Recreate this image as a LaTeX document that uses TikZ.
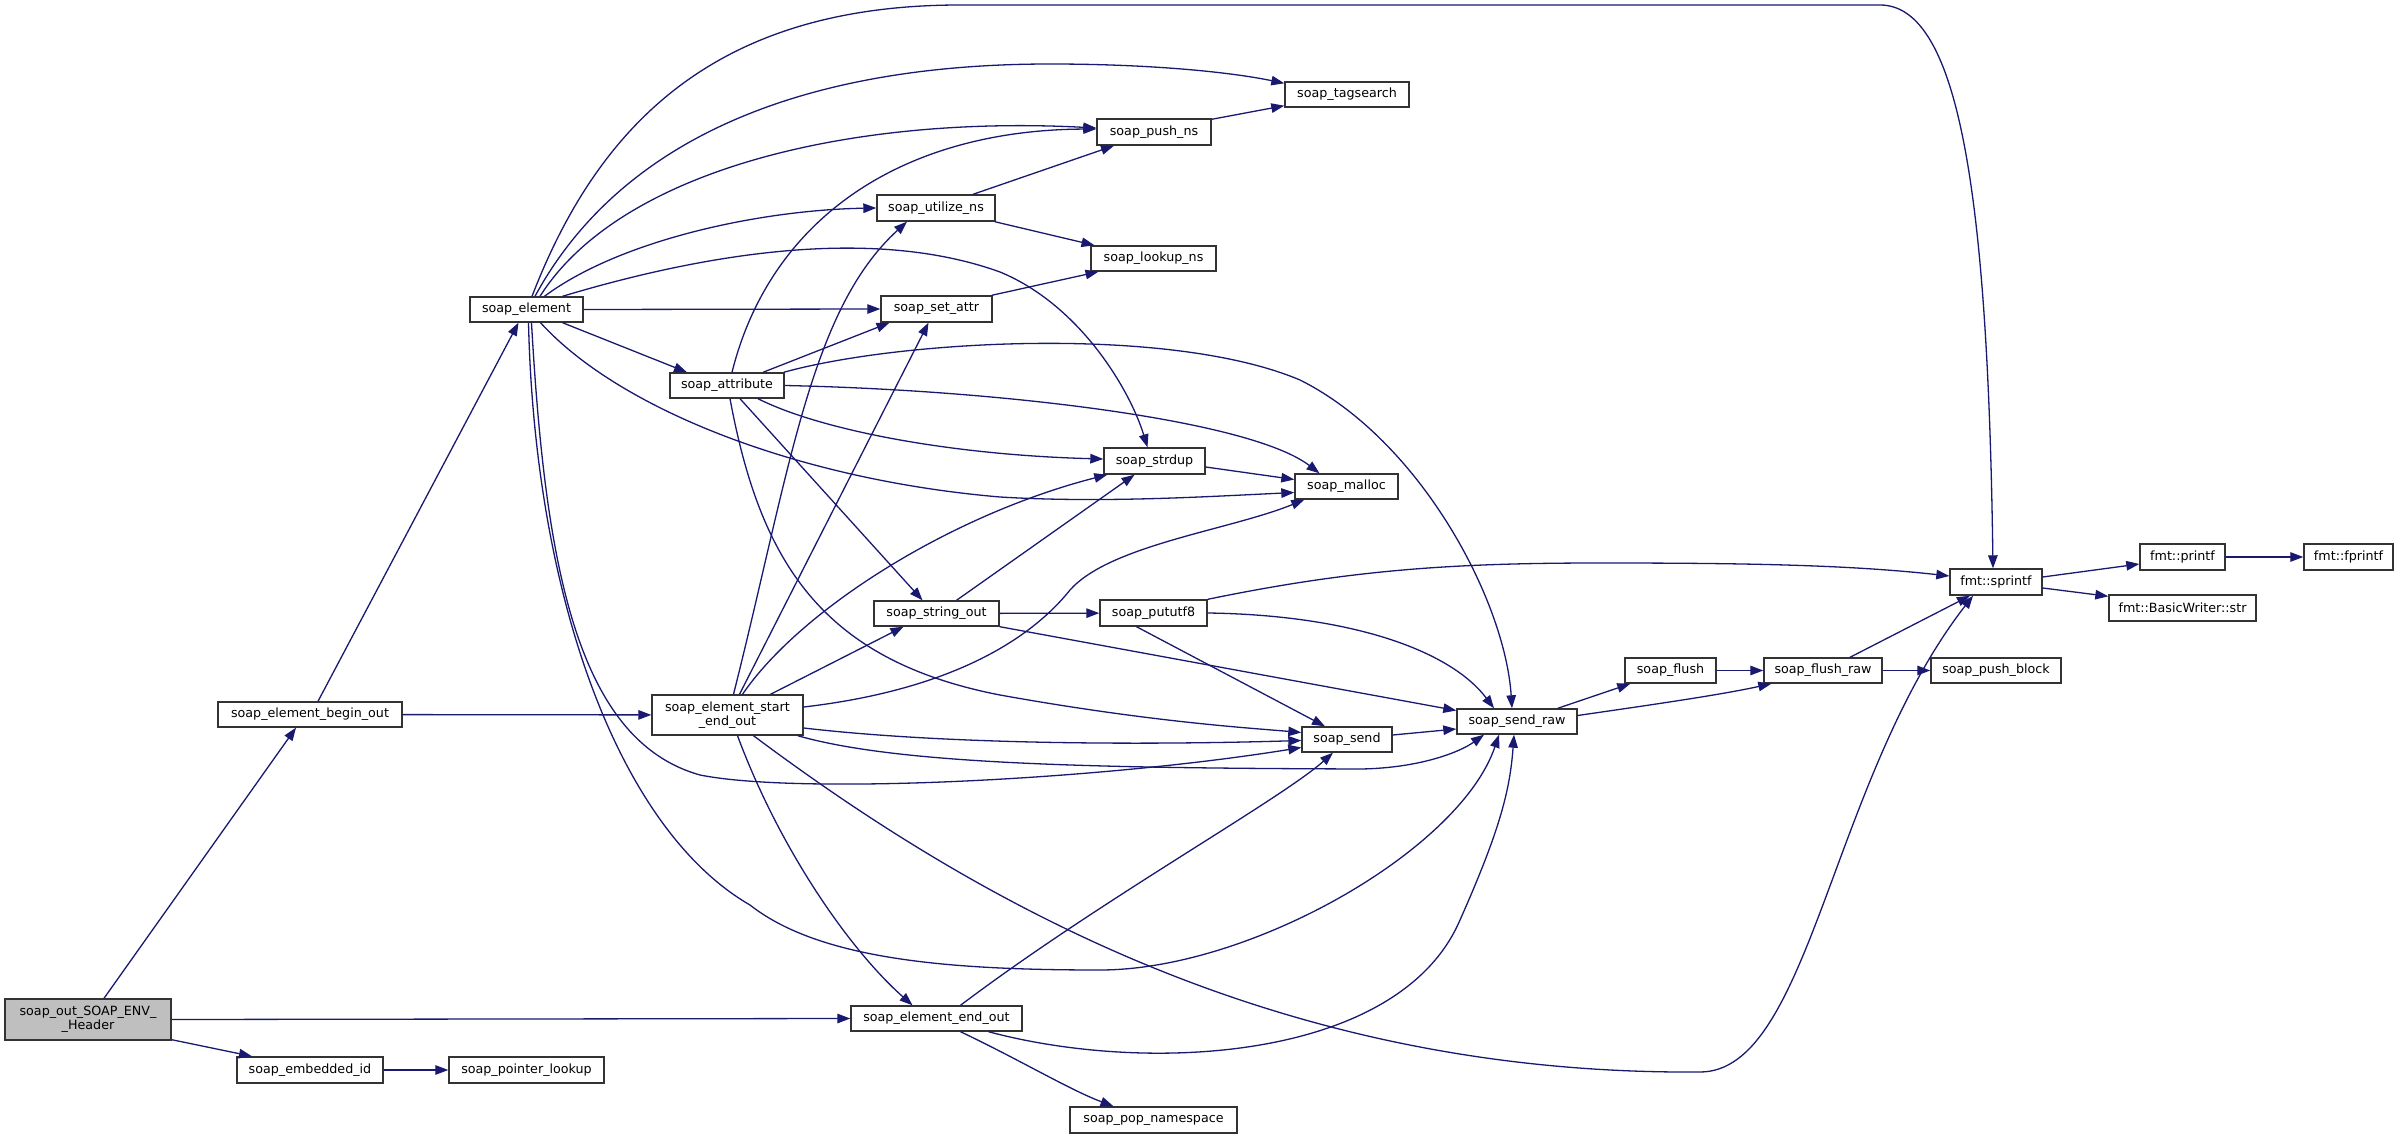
\documentclass[tikz,border=0pt]{standalone}
\usepackage{fontspec}
\newfontfamily\dvs{DejaVu Sans}
\usetikzlibrary{arrows.meta}
\definecolor{edgec}{HTML}{191970}
\definecolor{boxc}{HTML}{333333}
\definecolor{grayfill}{HTML}{BFBFBF}
\begin{document}
\begin{tikzpicture}[x=1pt,y=-1pt,
 box/.style={draw=boxc, line width=1.4pt, fill=white, rectangle, inner sep=0pt, minimum height=25pt, font=\dvs\fontsize{12.7pt}{14pt}\selectfont, align=center},
 edge/.style={draw=edgec, line width=1.3pt, -{Triangle[length=13pt,width=9.5pt]}}]
\fill[white] (0,0) rectangle (2399,1139);
\useasboundingbox (0,0) rectangle (2399,1139);

\node[box, fill=grayfill, minimum width=166pt, minimum height=41pt] (A) at (88,1019.5) {soap\_out\_SOAP\_ENV\_\\\_Header};
\node[box, minimum width=184pt] (B) at (310,714.5) {soap\_element\_begin\_out};
\node[box, minimum width=151pt, minimum height=40pt] (S) at (727.5,715) {soap\_element\_start\\\_end\_out};
\node[box, minimum width=113pt] (E) at (526.5,309.5) {soap\_element};
\node[box, minimum width=114pt] (T) at (727,385.5) {soap\_attribute};
\node[box, minimum width=146pt, minimum height=26pt] (EM) at (310,1070) {soap\_embedded\_id};
\node[box, minimum width=155pt, minimum height=26pt] (PL) at (526.5,1070) {soap\_pointer\_lookup};
\node[box, minimum width=118pt, minimum height=26pt] (U) at (936,208) {soap\_utilize\_ns};
\node[box, minimum width=111pt, minimum height=26pt] (SA) at (936.5,309) {soap\_set\_attr};
\node[box, minimum width=125pt] (SO) at (936.5,613.5) {soap\_string\_out};
\node[box, minimum width=171pt] (EO) at (936.5,1018.5) {soap\_element\_end\_out};
\node[box, minimum width=124pt] (TS) at (1347,94.5) {soap\_tagsearch};
\node[box, minimum width=114pt, minimum height=26pt] (PN) at (1154,132) {soap\_push\_ns};
\node[box, minimum width=125pt] (LN) at (1153.5,258.5) {soap\_lookup\_ns};
\node[box, minimum width=101pt, minimum height=26pt] (SD) at (1154.5,461) {soap\_strdup};
\node[box, minimum width=103pt] (ML) at (1346.5,486.5) {soap\_malloc};
\node[box, minimum width=107pt, minimum height=26pt] (PU) at (1153.5,613) {soap\_pututf8};
\node[box, minimum width=90pt] (SN) at (1347,739.5) {soap\_send};
\node[box, minimum width=120pt] (SR) at (1517,721.5) {soap\_send\_raw};
\node[box, minimum width=167pt, minimum height=26pt] (PP) at (1153.5,1120) {soap\_pop\_namespace};
\node[box, minimum width=92pt, minimum height=26pt] (SP) at (1996,582) {fmt::sprintf};
\node[box, minimum width=85pt, minimum height=26pt] (PF) at (2182.5,557) {fmt::printf};
\node[box, minimum width=89pt, minimum height=26pt] (FP) at (2348.5,557) {fmt::fprintf};
\node[box, minimum width=147pt, minimum height=26pt] (BW) at (2182.5,608) {fmt::BasicWriter::str};
\node[box, minimum width=91pt] (FL) at (1670.5,670.5) {soap\_flush};
\node[box, minimum width=118pt] (FR) at (1823,670.5) {soap\_flush\_raw};
\node[box, minimum width=130pt] (PB) at (1996,670.5) {soap\_push\_block};

% soap_out
\draw[edge] ([xshift=16pt]A.north) -- ([xshift=-14pt]B.south);
\draw[edge] (A.east) -- (EO.west);
\draw[edge] ([yshift=1pt]A.south east) -- ([xshift=-58pt]EM.north);
\draw[edge] (EM) -- (PL);
% begin_out
\draw[edge] ([xshift=8pt]B.north) -- ([xshift=-8pt]E.south);
\draw[edge] (B) -- (S);
% soap_element
\draw[edge] ([xshift=5.5pt]E.north) .. controls (600,120) and (720,5) .. (960,5) -- (1880,5) .. controls (1960,5) and (1988,200) .. ([xshift=-3pt]SP.north);
\draw[edge] ([xshift=8.5pt]E.north) .. controls (620,140) and (800,64) .. (1050,64) .. controls (1150,64) and (1230,72) .. ([yshift=-2pt]TS.north west);
\draw[edge] ([xshift=13.5pt]E.north) .. controls (620,170) and (850,115) .. ([yshift=4pt]PN.west);
\draw[edge] ([xshift=18pt]E.north) .. controls (620,240) and (760,210) .. (U.west);
\draw[edge] ([xshift=36pt]E.north) .. controls (700,255) and (870,225) .. (1000,272) .. controls (1080,305) and (1130,390) .. ([xshift=-7pt]SD.north);
\draw[edge] (E.east) -- (SA.west);
\draw[edge] ([xshift=36pt]E.south) -- ([xshift=-40pt]T.north);
\draw[edge] ([xshift=14pt]E.south) .. controls (620,410) and (800,480) .. (1000,497) .. controls (1100,503) and (1200,497) .. ([yshift=-6pt]ML.west);
\draw[edge] ([xshift=5pt]E.south) .. controls (545,560) and (575,740) .. (700,775) .. controls (800,795) and (1100,780) .. ([yshift=-8pt]SN.west);
\draw[edge] ([xshift=2pt]E.south) .. controls (535,600) and (620,830) .. (750,905) .. controls (820,960) and (950,970) .. (1100,970) .. controls (1250,970) and (1460,850) .. ([xshift=-18pt]SR.south);
% soap_attribute
\draw[edge] ([xshift=5pt]T.north) .. controls (770,220) and (900,130) .. ([yshift=3pt]PN.west);
\draw[edge] ([xshift=36pt]T.north) -- ([xshift=-47pt]SA.south);
\draw[edge] ([xshift=-1pt]T.north east) .. controls (900,340) and (1170,325) .. (1300,380) .. controls (1420,440) and (1505,600) .. ([xshift=-5pt]SR.north);
\draw[edge] (T.east) .. controls (1000,390) and (1250,420) .. ([xshift=-27pt]ML.north);
\draw[edge] ([xshift=31pt]T.south) .. controls (820,430) and (950,455) .. ([yshift=2pt]SD.west);
\draw[edge] ([xshift=13pt]T.south) -- ([xshift=-14pt]SO.north);
\draw[edge] ([xshift=3pt]T.south) .. controls (760,560) and (820,660) .. (1000,695) .. controls (1150,722) and (1250,728) .. ([yshift=7pt]SN.west);
% start_end_out
\draw[edge] ([xshift=6pt]S.north) .. controls (790,470) and (810,310) .. ([xshift=-29pt]U.south);
\draw[edge] ([xshift=12pt]S.north) -- ([xshift=-8pt]SA.south);
\draw[edge] ([xshift=15pt]S.north) .. controls (800,610) and (950,515) .. ([xshift=4pt]SD.south west);
\draw[edge] ([xshift=43pt]S.north) -- ([xshift=-33pt]SO.south);
\draw[edge] ([yshift=8pt]S.east) .. controls (950,690) and (1030,640) .. (1070,590) .. controls (1110,545) and (1230,530) .. ([xshift=10pt]ML.south west);
\draw[edge] ([yshift=-13pt]S.east) .. controls (950,745) and (1150,745) .. ([yshift=-1pt]SN.west);
\draw[edge] ([xshift=-6pt]S.south east) .. controls (900,765) and (1100,768) .. (1361,769) .. controls (1420,768) and (1460,752) .. ([xshift=-33pt]SR.south);
\draw[edge] ([xshift=10pt]S.south) .. controls (780,850) and (850,950) .. ([xshift=-24pt]EO.north);
\draw[edge] ([xshift=26pt]S.south) .. controls (1000,920) and (1300,1075) .. (1700,1072) .. controls (1810,1072) and (1830,780) .. ([xshift=-23pt]SP.south);
% others
\draw[edge] ([xshift=37pt]U.north) -- ([xshift=-40pt]PN.south);
\draw[edge] ([xshift=-1pt]U.south east) -- ([xshift=-59pt]LN.north);
\draw[edge] ([xshift=-1pt]SA.north east) -- ([xshift=-55pt]LN.south);
\draw[edge] ([yshift=-1pt]PN.north east) -- ([yshift=2pt]TS.south west);
\draw[edge] ([yshift=-6pt]SD.east) -- ([yshift=7pt]ML.west);
\draw[edge] (SO) -- (PU);
\draw[edge] (SO.south east) -- ([yshift=11pt]SR.west);
\draw[edge] ([xshift=20pt]SO.north) -- ([xshift=-20pt]SD.south);
\draw[edge] (PU.north east) .. controls (1350,570) and (1450,563) .. (1600,563) .. controls (1750,563) and (1850,565) .. ([yshift=6pt]SP.west);
\draw[edge] (PU.east) .. controls (1350,615) and (1450,650) .. ([xshift=-23pt]SR.north);
\draw[edge] ([xshift=-17pt]PU.south) -- ([xshift=-22pt]SN.north);
\draw[edge] ([yshift=4.5pt]SN.east) -- ([yshift=-7.5pt]SR.west);
\draw[edge] ([xshift=24pt]EO.north) .. controls (1100,900) and (1280,800) .. ([xshift=-14pt]SN.south);
\draw[edge] ([xshift=52pt]EO.south) .. controls (1150,1075) and (1400,1060) .. (1460,920) .. controls (1500,830) and (1510,790) .. ([xshift=-3pt]SR.south);
\draw[edge] ([xshift=24pt]EO.south) .. controls (1020,1060) and (1070,1090) .. ([xshift=-40pt]PP.north);
\draw[edge] ([xshift=-20pt]SR.north east) -- ([xshift=6pt]FL.south west);
\draw[edge] ([yshift=6pt]SR.east) .. controls (1650,705) and (1720,695) .. ([xshift=8pt]FR.south west);
\draw[edge] (FL) -- (FR);
\draw[edge] ([xshift=27pt]FR.north) -- ([xshift=-26pt]SP.south);
\draw[edge] (FR) -- (PB);
\draw[edge] ([yshift=5pt]SP.east) -- ([yshift=-7pt]PF.west);
\draw[edge] ([yshift=-6pt]SP.east) -- ([yshift=-2pt]BW.north west);
\draw[edge] (PF) -- (FP);
\end{tikzpicture}
\end{document}
